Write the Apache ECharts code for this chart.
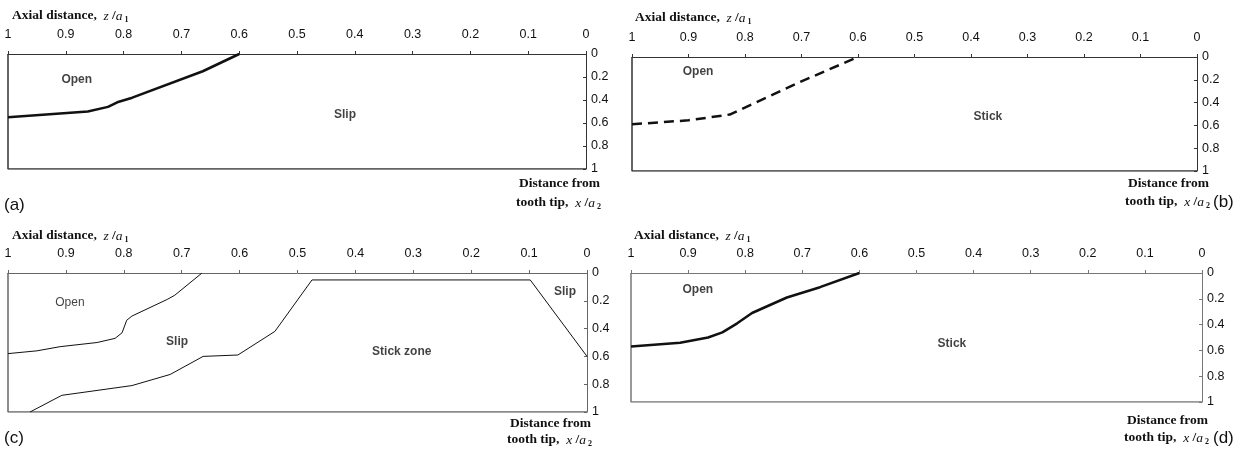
<!DOCTYPE html>
<html>
<head>
<meta charset="utf-8">
<script src="https://cdn.jsdelivr.net/npm/echarts@6/dist/echarts.min.js"></script>
<style>
  html, body { margin: 0; padding: 0; background: #fff; }
  #chart { width: 1245px; height: 450px; }
</style>
</head>
<body>
<div id="chart"></div>
<script>
// Axis ticks (shared by the four panels)
const xTicks = [1, 0.9, 0.8, 0.7, 0.6, 0.5, 0.4, 0.3, 0.2, 0.1, 0];
const yTicks = [0, 0.2, 0.4, 0.6, 0.8, 1];

// Boundary curves: [x/a2, z/a1]
const aOpenSlip = [[1, 0.55], [0.862, 0.50], [0.827, 0.46], [0.811, 0.42], [0.785, 0.38], [0.663, 0.15], [0.6, 0]];
const bOpenStick = [[1, 0.59], [0.9, 0.555], [0.827, 0.505], [0.703, 0.22], [0.6, 0]];
const cOpenSlip = [[1, 0.58], [0.95, 0.56], [0.91, 0.53], [0.846, 0.50], [0.815, 0.47], [0.803, 0.43], [0.795, 0.34], [0.786, 0.31], [0.725, 0.19], [0.712, 0.16], [0.665, 0]];
const cSlipStick = [[0.962, 1], [0.907, 0.88], [0.786, 0.81], [0.72, 0.73], [0.663, 0.60], [0.603, 0.59], [0.539, 0.42], [0.475, 0.05], [0.098, 0.05], [0, 0.6]];
const dOpenStick = [[1, 0.57], [0.914, 0.54], [0.865, 0.50], [0.84, 0.46], [0.814, 0.39], [0.788, 0.31], [0.727, 0.19], [0.669, 0.11], [0.6, 0]];

// Zone names anchored in data coordinates: [x/a2, z/a1, text, bold]
const aZones = [[0.881, 0.226, 'Open', true], [0.417, 0.53, 'Slip', true]];
const bZones = [[0.883, 0.13, 'Open', true], [0.37, 0.52, 'Stick', true]];
const cZones = [[0.893, 0.216, 'Open', false], [0.708, 0.496, 'Slip', true], [0.32, 0.568, 'Stick zone', true], [0.038, 0.137, 'Slip', true]];
const dZones = [[0.883, 0.13, 'Open', true], [0.438, 0.55, 'Stick', true]];

const panelLetters = ['(a)', '(b)', '(c)', '(d)'];

const SANS = 'Liberation Sans, Arial, sans-serif';
const SERIF = 'Liberation Serif, Times New Roman, serif';

const grids = [
  { left: 8, right: 659, top: 54, height: 115 },
  { left: 632, right: 48, top: 57, height: 114 },
  { left: 8, right: 658, top: 273, height: 139 },
  { left: 631, right: 43, top: 273, height: 129 }
];
const frameColors = ['#333', '#333', '#666', '#777'];

const fmt = v => String(Math.round(v * 10) / 10);

const xAxes = grids.map((g, i) => ({
  gridIndex: i, type: 'value', position: 'top', inverse: true,
  min: 0, max: 1, interval: 0.1,
  axisLine: { show: true, lineStyle: { color: frameColors[i], width: 1 } },
  axisTick: { show: true, length: 3, lineStyle: { color: frameColors[i] } },
  axisLabel: { margin: 13, color: '#111', fontFamily: SANS, fontSize: 12.5, formatter: fmt },
  splitLine: { show: false }
}));
const yAxes = grids.map((g, i) => ({
  gridIndex: i, type: 'value', position: 'right', inverse: true,
  min: 0, max: 1, interval: 0.2,
  axisLine: { show: true, lineStyle: { color: frameColors[i], width: 1 } },
  axisTick: { show: true, inside: true, length: 3, lineStyle: { color: frameColors[i] } },
  axisLabel: { margin: 5, color: '#111', fontFamily: SANS, fontSize: 12.5, formatter: fmt },
  splitLine: { show: false }
}));

function boundary(i, data, opts) {
  return {
    type: 'line', xAxisIndex: i, yAxisIndex: i, data: data,
    symbol: 'none', smooth: false, silent: true,
    lineStyle: Object.assign({ color: '#111', width: 2.5 }, opts || {})
  };
}
function zones(i, list) {
  return {
    type: 'scatter', xAxisIndex: i, yAxisIndex: i, symbolSize: 0, silent: true,
    data: list.map(z => ({ value: [z[0], z[1]], name: z[2],
      label: { fontWeight: z[3] ? 'bold' : 'normal' } })),
    label: { show: true, position: 'inside', formatter: p => p.name,
      color: '#111', fontFamily: SANS, fontSize: 12 }
  };
}

// Frame: the left and bottom edges of each plot box
const frames = grids.map((g, i) => ({
  type: 'line', xAxisIndex: i, yAxisIndex: i, symbol: 'none', silent: true,
  data: [[0, 1], [1, 1], [1, 0]],
  lineStyle: { color: frameColors[i], width: 1.5 }, z: 1
}));

const series = frames.concat([
  boundary(0, aOpenSlip),
  boundary(1, bOpenStick, { type: [10, 6] }),
  boundary(2, cOpenSlip, { width: 1 }),
  boundary(2, cSlipStick, { width: 1 }),
  boundary(3, dOpenStick),
  zones(0, aZones), zones(1, bZones), zones(2, cZones), zones(3, dZones)
]);

const titleRich = {
  b: { fontFamily: SERIF, fontWeight: 'bold', fontSize: 13.5, fill: '#111' },
  i: { fontFamily: SERIF, fontStyle: 'italic', fontSize: 13.5, fill: '#111' },
  s: { fontFamily: SERIF, fontWeight: 'bold', fontSize: 8, fill: '#111', padding: [7, 0, 0, 2] }
};

// Axis titles and panel letters
const axialPos = [[12, 16], [635, 18], [12, 236], [634, 236]];
const distPos = [[600, 184, 203], [1209, 184, 202], [591, 424, 440], [1208, 421, 438]];
const letterPos = [[4, 205], [1213, 202], [4, 438], [1213, 438]];

const graphic = [];
axialPos.forEach(p => graphic.push({
  type: 'text', x: p[0], y: p[1], silent: true,
  style: { text: '{b|Axial distance,}  {i|z}{b| /}{i|a}{s|1}', rich: titleRich,
    textAlign: 'left', textVerticalAlign: 'middle' }
}));
distPos.forEach(p => {
  graphic.push({
    type: 'text', x: p[0], y: p[1], silent: true,
    style: { text: 'Distance from', font: 'bold 13.5px ' + SERIF, fill: '#111',
      textAlign: 'right', textVerticalAlign: 'middle' }
  });
  graphic.push({
    type: 'text', x: p[0] + 1, y: p[2], silent: true,
    style: { text: '{b|tooth tip,}  {i|x}{b| /}{i|a}{s|2}', rich: titleRich,
      textAlign: 'right', textVerticalAlign: 'middle' }
  });
});
letterPos.forEach((p, i) => graphic.push({
  type: 'text', x: p[0], y: p[1], silent: true,
  style: { text: panelLetters[i], font: '17px ' + SANS, fill: '#111',
    textAlign: 'left', textVerticalAlign: 'middle' }
}));

const chart = echarts.init(document.getElementById('chart'), null, { renderer: 'canvas' });
chart.setOption({
  animation: false,
  backgroundColor: '#fff',
  grid: grids.map(g => Object.assign({ containLabel: false }, g)),
  xAxis: xAxes,
  yAxis: yAxes,
  series: series,
  graphic: graphic
});
</script>
</body>
</html>
